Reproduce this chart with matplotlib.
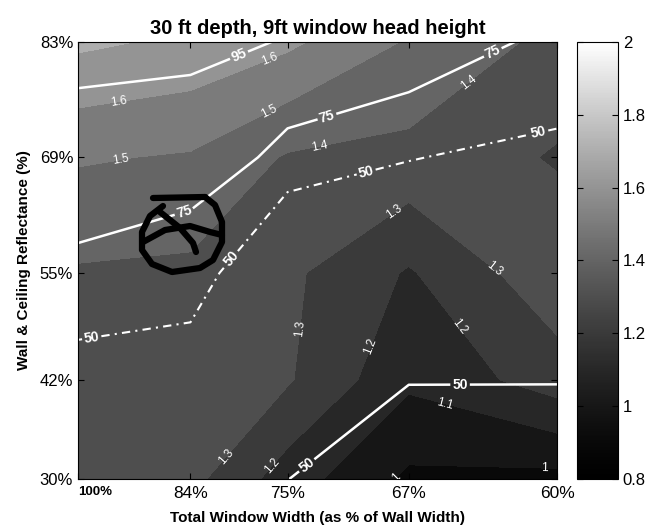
import matplotlib.pyplot as plt
import numpy as np
from matplotlib.colors import Normalize, ListedColormap
from matplotlib.cm import ScalarMappable

plt.rcParams['font.family'] = ['Liberation Sans', 'DejaVu Sans']

# x: total window width (% of wall width), y: wall & ceiling reflectance (%)
width_pct = [100, 84, 75, 67, 60]
reflect_pct = [30, 42, 55, 69, 83]
xlabels = ['100%', '84%', '75%', '67%', '60%']
ylabels = ['30%', '42%', '55%', '69%', '83%']

# rows = reflectance 30% -> 83%, columns = width 100% -> 60%
ratio = np.array([
    [1.36, 1.33, 1.15, 0.98, 0.97],
    [1.37, 1.35, 1.31, 1.12, 1.25],
    [1.39, 1.38, 1.32, 1.19, 1.37],
    [1.51, 1.49, 1.39, 1.37, 1.29],
    [1.72, 1.68, 1.62, 1.49, 1.37],
])
area_solid = np.array([
    [64.0, 57.0, 50.3, 30.0, 28.0],
    [66.0, 60.0, 56.0, 51.0, 51.0],
    [69.6, 57.2, 55.0, 53.0, 52.0],
    [90.5, 90.0, 68.4, 62.0, 58.0],
    [98.0, 97.0, 94.6, 85.0, 71.0],
])
area_dashed = np.array([
    [35.0, 33.0, 25.0, 20.0, 18.0],
    [44.0, 43.0, 32.0, 28.0, 25.0],
    [60.0, 56.0, 36.0, 35.0, 30.0],
    [70.0, 66.0, 56.0, 50.5, 46.0],
    [80.0, 75.0, 70.0, 65.0, 62.0],
])

# spacing of the x axis in the original goes with 1/width^2
x = (100.0 / np.array(width_pct)) ** 2
y = np.array(reflect_pct, dtype=float)
X, Y = np.meshgrid(x, y)

# where the contour labels sit (data coords)
ratio_label_pos = {
    1.6: [(1.148, 76.8), (1.702, 81.8)],
    1.5: [(1.156, 68.9), (1.694, 75.4)],
    1.4: [(1.887, 71.7), (2.418, 79.4)],
    1.3: [(2.169, 62.6), (2.65, 60.0), (1.869, 48.1), (1.560, 32.4)],
    1.2: [(2.121, 45.6), (2.437, 49.0), (1.694, 32.4)],
    1.1: [(2.362, 39.0)],
    1.0: [(2.730, 31.9), (2.177, 30.4)],
}
solid_label_pos = [(1.590, 82.0), (1.397, 62.0), (1.928, 73.5), (2.540, 81.7),
                   (2.418, 41.6), (1.831, 32.4)]
dashed_label_pos = [(1.052, 46.9), (1.575, 56.6), (2.065, 67.8), (2.708, 72.3)]

# the scanned grey map is darker in the mid tones than a linear ramp
t = np.linspace(0, 1, 256) ** 1.35
grey = ListedColormap(np.column_stack([t, t, t]))

fig = plt.figure(figsize=(6.55, 5.27), dpi=100)
ax = fig.add_axes([0.1191, 0.0911, 0.7313, 0.8292])
cax = fig.add_axes([0.8809, 0.0911, 0.0626, 0.8292])

levels = np.round(np.arange(0.8, 2.01, 0.1), 1)
# matlab colours each band by its lower level
ax.contourf(X, Y, ratio, levels=levels, cmap=grey, norm=Normalize(0.85, 2.05))
for lev, pts in ratio_label_pos.items():
    cs_r = ax.contour(X, Y, ratio, levels=[lev], linewidths=0)
    ax.clabel(cs_r, manual=pts, fmt='%g', fontsize=8.5, colors='white', inline=False)

cs_s = ax.contour(X, Y, area_solid, levels=[50, 75, 95], colors='white', linewidths=1.8)
for lab in ax.clabel(cs_s, manual=solid_label_pos, fmt='%g', fontsize=10,
                     colors='white', inline=True, inline_spacing=2):
    lab.set_fontweight('bold')

cs_d = ax.contour(X, Y, area_dashed, levels=[50], colors='white', linewidths=1.5,
                  linestyles=[(0, (4, 2.5, 1, 2.5))])
for lab in ax.clabel(cs_d, manual=dashed_label_pos, fmt='%g', fontsize=10,
                     colors='white', inline=True, inline_spacing=2):
    lab.set_fontweight('bold')

# hand drawn mark on the chart (pixel positions of the scan)
strokes = [
    [(153, 198), (205, 197)],
    [(205, 197), (215, 205), (222, 222), (222, 242), (213, 260), (200, 268), (172, 272),
     (152, 264), (142, 250), (142, 232), (150, 216), (163, 206)],
    [(160, 212), (180, 228), (193, 243), (196, 252)],
    [(143, 242), (165, 230), (190, 226), (210, 232), (222, 235)],
]
for s in strokes:
    s = np.array(s, dtype=float)
    ax.plot(s[:, 0] / 655, 1 - s[:, 1] / 527, color='black', lw=4.5,
            solid_capstyle='round', solid_joinstyle='round', transform=fig.transFigure)

ax.set_xlim(x[0], x[-1])
ax.set_ylim(y[0], y[-1])
ax.set_xticks(x)
ax.set_xticklabels(xlabels, fontsize=12.5)
ax.set_yticks(y)
ax.set_yticklabels(ylabels, fontsize=12)
lab0 = ax.get_xticklabels()[0]
lab0.set_fontweight('bold')
lab0.set_fontsize(9.5)
lab0.set_horizontalalignment('left')
ax.tick_params(direction='in', top=True, right=True, length=4, width=0.8)
ax.tick_params(axis='x', pad=5)

ax.set_title('30 ft depth, 9ft window head height', fontsize=14.5, fontweight='bold')
ax.set_xlabel('Total Window Width (as % of Wall Width)', fontsize=11, fontweight='bold',
              labelpad=7)
ax.set_ylabel('Wall & Ceiling Reflectance (%)', fontsize=11, fontweight='bold', labelpad=6)

cb = fig.colorbar(ScalarMappable(norm=Normalize(0.8, 2.0), cmap=grey), cax=cax)
cb.set_ticks([0.8, 1.0, 1.2, 1.4, 1.6, 1.8, 2.0])
cb.set_ticklabels(['0.8', '1', '1.2', '1.4', '1.6', '1.8', '2'])
cax.tick_params(direction='in', left=True, right=True, length=4, labelsize=12)
cb.outline.set_linewidth(0.8)

fig.savefig('out.png', dpi=100)
